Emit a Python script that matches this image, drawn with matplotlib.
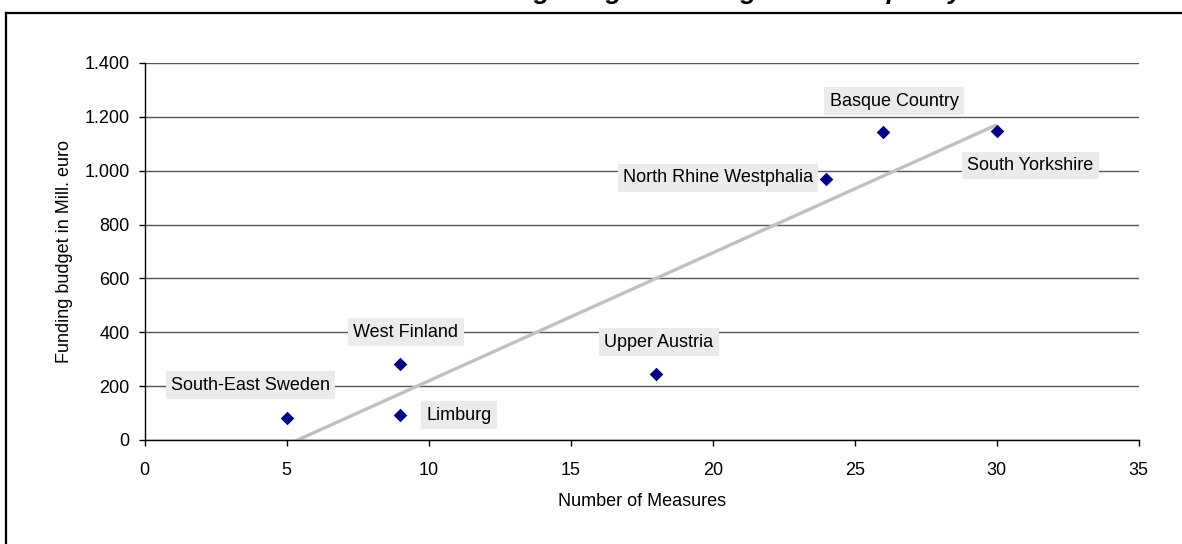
import numpy as np
import matplotlib.pyplot as plt
from matplotlib.lines import Line2D
from matplotlib.ticker import FuncFormatter, MultipleLocator

plt.rcParams['font.family'] = ['Liberation Sans', 'DejaVu Sans']

# regions: number of measures vs. funding budget (Mill. euro)
regions = ['South-East Sweden', 'West Finland', 'Limburg', 'Upper Austria',
           'North Rhine Westphalia', 'Basque Country', 'South Yorkshire']
measures = [5, 9, 9, 18, 24, 26, 30]
budget = [80, 282, 92, 245, 969, 1145, 1148]

# label offsets in points (layout only)
label_offsets = [(-26, 24), (4, 23), (42, 0), (2, 23), (-78, 1), (8, 22), (24, -25)]

fig = plt.figure(figsize=(11.82, 5.44), dpi=100)
ax = fig.add_axes([0.1224, 0.1912, 0.8410, 0.6930])

# linear trend line
coef = np.polyfit(measures, budget, 1)
xs = np.array([min(measures), max(measures)])
ax.plot(xs, np.polyval(coef, xs), color='#c0c0c0', lw=2.4, zorder=2,
        solid_capstyle='butt')

ax.scatter(measures, budget, marker='D', s=48, color='#000080', zorder=3,
           linewidths=0)

for name, x, y, off in zip(regions, measures, budget, label_offsets):
    ax.annotate(name, xy=(x, y), xytext=off, textcoords='offset points',
                ha='center', va='center', fontsize=13, color='black', zorder=4,
                bbox=dict(boxstyle='square,pad=0.3', fc='#ebebeb', ec='none'))

ax.set_xlim(0, 35)
ax.set_ylim(0, 1400)
ax.xaxis.set_major_locator(MultipleLocator(5))
ax.yaxis.set_major_locator(MultipleLocator(200))
ax.yaxis.set_major_formatter(FuncFormatter(lambda v, p: f'{int(v):,}'.replace(',', '.')))

ax.grid(axis='y', color='#555555', lw=1)
ax.set_axisbelow(True)
for s in ['top', 'right']:
    ax.spines[s].set_visible(False)
for s in ['left', 'bottom']:
    ax.spines[s].set_color('black')
    ax.spines[s].set_linewidth(1)
ax.tick_params(axis='both', direction='out', length=4, width=1, labelsize=13)
ax.tick_params(axis='y', pad=7)
ax.tick_params(axis='x', pad=12)

ax.set_xlabel('Number of Measures', fontsize=13, labelpad=10)
ax.set_ylabel('Funding budget in Mill. euro', fontsize=13, labelpad=8)

# title sits above the frame, only its lower part shows
fig.text(446 / 1182, 1 + 1.5 / 544, 'Funding budget and Regional RTD policy',
         fontsize=19, fontstyle='italic', fontweight='bold', ha='left', va='baseline')

# outer chart frame
fig.add_artist(Line2D([6 / 1182, 6 / 1182], [0, 1 - 13 / 544], transform=fig.transFigure,
                      color='black', lw=1.6))
fig.add_artist(Line2D([5.5 / 1182, 1], [1 - 13 / 544, 1 - 13 / 544], transform=fig.transFigure,
                      color='black', lw=1.6))

fig.savefig('out.png', dpi=100)
